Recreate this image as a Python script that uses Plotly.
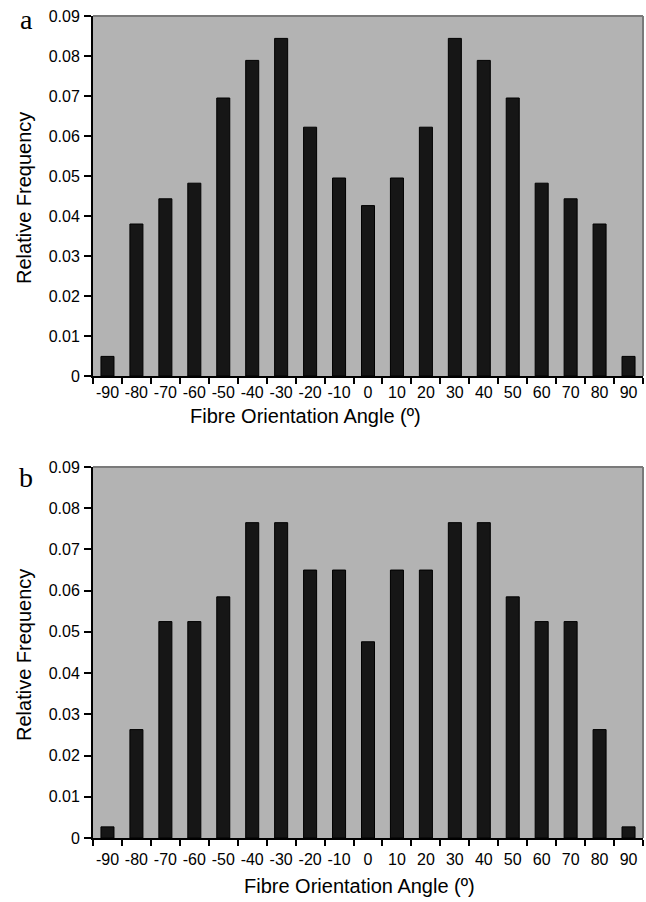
import plotly.graph_objects as go

angles = [-90, -80, -70, -60, -50, -40, -30, -20, -10, 0, 10, 20, 30, 40, 50, 60, 70, 80, 90]
angle_labels = [str(a) for a in angles]
freq_a = [0.0049, 0.038, 0.0443, 0.0482, 0.0695, 0.0789, 0.0844, 0.0622, 0.0495, 0.0426,
          0.0495, 0.0622, 0.0844, 0.0789, 0.0695, 0.0482, 0.0443, 0.038, 0.0049]
freq_b = [0.0027, 0.0263, 0.0525, 0.0525, 0.0585, 0.0765, 0.0765, 0.065, 0.065, 0.0476,
          0.065, 0.065, 0.0765, 0.0765, 0.0585, 0.0525, 0.0525, 0.0263, 0.0027]
y_ticks = [0, 0.01, 0.02, 0.03, 0.04, 0.05, 0.06, 0.07, 0.08, 0.09]
y_tick_text = ["0", "0.01", "0.02", "0.03", "0.04", "0.05", "0.06", "0.07", "0.08", "0.09"]
panel_labels = ["a", "b"]
x_title = "Fibre Orientation Angle (\u00ba)"
y_title = "Relative Frequency"

W, H = 646, 902
ml, mr, mt, mb = 93, 3, 16, 64
ph = H - mt - mb
pw = W - ml - mr


def py(p):
    return 1 - (p - mt) / ph


def px(p):
    return (p - ml) / pw


top_dom = [py(376), 1]
bot_dom = [0, py(467)]

tick_font = dict(family="Liberation Sans, Arial", size=16, color="black")
title_font = dict(family="Liberation Sans, Arial", size=20, color="black")

panels = [
    dict(vals=freq_a, dom=top_dom, xa="x", ya="y", standoff=1,
         lab_y=20, ytitle_y=198, xtitle_x=188, xtitle_y=416),
    dict(vals=freq_b, dom=bot_dom, xa="x2", ya="y2", standoff=6,
         lab_y=477, ytitle_y=655, xtitle_x=242, xtitle_y=886),
]

fig = go.Figure()
for i, p in enumerate(panels):
    xa, ya = p["xa"], p["ya"]
    fig.add_trace(go.Bar(x=angle_labels, y=p["vals"], xaxis=xa, yaxis=ya,
                         marker=dict(color="#161616", line=dict(color="#000000", width=1)),
                         showlegend=False))
    axk = "xaxis" if i == 0 else "xaxis2"
    ayk = "yaxis" if i == 0 else "yaxis2"
    fig.update_layout(**{
        axk: dict(domain=[0, 1], anchor=ya, type="category", categoryorder="array",
                  categoryarray=angle_labels, showline=True, linecolor="black", linewidth=2,
                  ticks="outside", tickson="boundaries", ticklen=6, tickwidth=1.5, tickcolor="black",
                  showgrid=False, tickfont=tick_font, zeroline=False, tickangle=0,
                  ticklabelstandoff=p["standoff"]),
        ayk: dict(domain=p["dom"], anchor=xa, range=[0, 0.09], tickvals=y_ticks, ticktext=y_tick_text,
                  showline=True, linecolor="black", linewidth=2, ticks="outside", ticklen=7,
                  tickwidth=1.5, tickcolor="black", showgrid=False, zeroline=False, tickfont=tick_font,
                  ticklabelstandoff=1),
    })
    fig.add_shape(type="line", xref=f"{xa} domain", yref=f"{ya} domain", x0=0, x1=1, y0=1, y1=1,
                  line=dict(color="#7a7a7a", width=2))
    fig.add_shape(type="line", xref=f"{xa} domain", yref=f"{ya} domain", x0=1, x1=1, y0=0, y1=1,
                  line=dict(color="#7a7a7a", width=2))
    fig.add_annotation(text=panel_labels[i], xref="paper", yref="paper", x=px(26), y=py(p["lab_y"]),
                       xanchor="center", yanchor="middle", showarrow=False,
                       font=dict(family="Liberation Serif, DejaVu Serif, serif", size=28, color="black"))
    fig.add_annotation(text=y_title, textangle=-90, xref="paper", yref="paper", x=px(24),
                       y=py(p["ytitle_y"]), xanchor="center", yanchor="middle", showarrow=False,
                       font=title_font)
    fig.add_annotation(text=x_title, xref="paper", yref="paper", x=px(p["xtitle_x"]),
                       y=py(p["xtitle_y"]), xanchor="left", yanchor="middle", showarrow=False,
                       font=title_font)

fig.update_layout(width=W, height=H, margin=dict(l=ml, r=mr, t=mt, b=mb),
                  paper_bgcolor="white", plot_bgcolor="#b3b3b3", bargap=0.55)
fig.write_html("out.html")
